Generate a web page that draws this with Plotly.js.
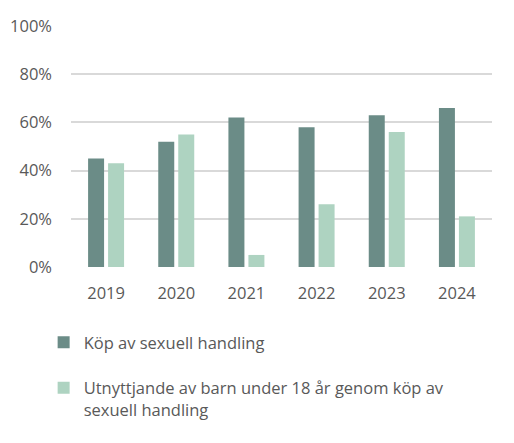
<!DOCTYPE html>
<html>
<head>
<meta charset="utf-8">
<script src="https://cdn.plot.ly/plotly-3.0.1.min.js"></script>
<style>
  html, body { margin: 0; padding: 0; background: #fff; }
  #chart { width: 514px; height: 443px; }
</style>
</head>
<body>
<div id="chart"></div>
<script>
    var years = ['2019', '2020', '2021', '2022', '2023', '2024'];
    var kop = [45, 52, 62, 58, 63, 66];
    var utnyttjande = [43, 55, 5, 26, 56, 21];
    var names = ['Köp av sexuell handling',
                 'Utnyttjande av barn under 18 år genom köp av<br>sexuell handling'];
    var yTicks = [0, 20, 40, 60, 80, 100];
    var yTickText = ['0%', '20%', '40%', '60%', '80%', '100%'];
    var colors = ['#6b8c87', '#aed3c1'];

    var textColor = '#595959';

    var data = [
        {x: years, y: kop, name: names[0], type: 'bar',
         legendgroup: 'a',
         marker: {color: colors[0]}, hoverinfo: 'x+y'},
        {x: years, y: utnyttjande, name: names[1], type: 'bar',
         legendgroup: 'b',
         marker: {color: colors[1]}, hoverinfo: 'x+y'}
    ];

    var layout = {
        width: 514,
        height: 443,
        margin: {l: 71, r: 22, t: 25, b: 176},
        paper_bgcolor: '#fff',
        plot_bgcolor: '#fff',
        font: {family: '"Open Sans", sans-serif', color: textColor, size: 16},
        barmode: 'group',
        bargap: 0.43,
        bargroupgap: 0.2,
        xaxis: {
            type: 'category',
            showgrid: false,
            showline: false,
            ticks: '',
            ticklabelstandoff: 14,
            tickfont: {size: 16.5, color: textColor}
        },
        yaxis: {
            range: [0, 100.4],
            tickvals: yTicks,
            ticktext: yTickText,
            showgrid: true,
            gridcolor: '#d9d9d9',
            gridwidth: 1.5,
            zeroline: false,
            showline: false,
            ticks: '',
            ticklabelstandoff: 18,
            tickfont: {size: 16.5, color: textColor}
        },
        showlegend: true,
        legend: {
            orientation: 'v',
            x: -0.065,
            xanchor: 'left',
            y: -0.24,
            yanchor: 'top',
            valign: 'top',
            traceorder: 'grouped',
            tracegroupgap: 21,
            font: {size: 16.5, color: textColor},
            bgcolor: 'rgba(0,0,0,0)'
        }
    };
    var config = {responsive: false, displayModeBar: false};
    Plotly.newPlot('chart', data, layout, config);
</script>
</body>
</html>
